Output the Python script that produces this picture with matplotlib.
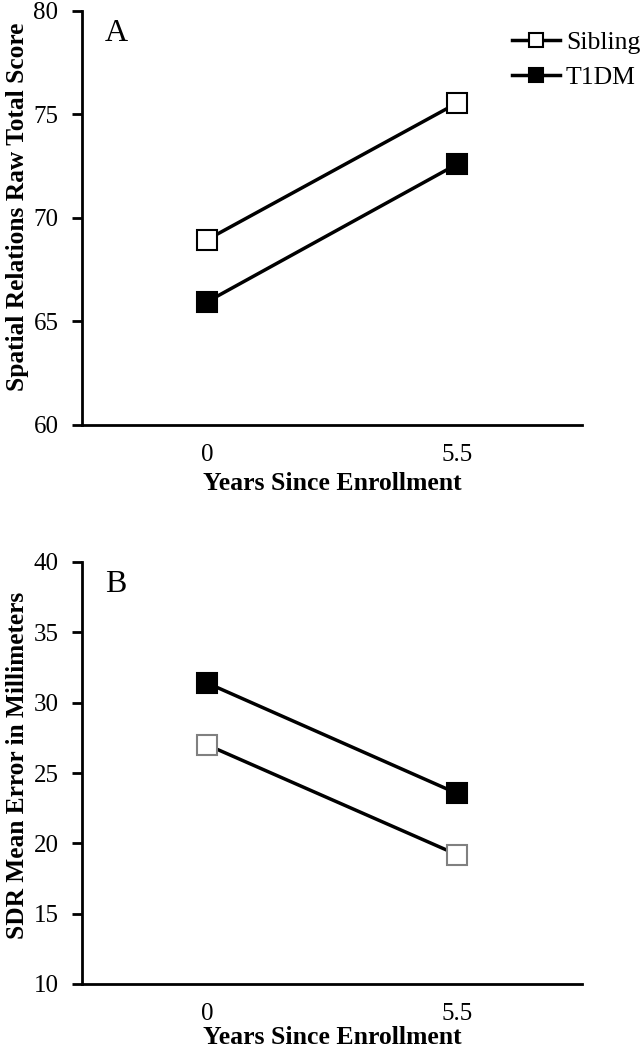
import matplotlib
matplotlib.use("Agg")
import matplotlib.pyplot as plt

plt.rcParams['font.family'] = ['Liberation Serif', 'DejaVu Serif']

years = ["0", "5.5"]
xpos = [1, 2]

sibling_a = [68.95, 75.55]
t1dm_a = [65.95, 72.6]
sibling_b = [27.0, 19.2]
t1dm_b = [31.4, 23.55]

yticks_a = [60, 65, 70, 75, 80]
yticks_b = [10, 15, 20, 25, 30, 35, 40]

W, H = 644, 1050
fig = plt.figure(figsize=(W / 100, H / 100), dpi=100)
axA = fig.add_axes([82 / W, 1 - 425 / H, 500 / W, 414 / H])
axB = fig.add_axes([82 / W, 1 - 984 / H, 500 / W, 422 / H])


def style(ax, ylim, yticks, ylabel, ly, lpad):
    ax.set_xlim(0.5, 2.5)
    ax.set_ylim(*ylim)
    ax.set_yticks(yticks)
    ax.set_xticks(xpos)
    ax.set_xticklabels(years)
    for s in ['top', 'right']:
        ax.spines[s].set_visible(False)
    for s in ['left', 'bottom']:
        ax.spines[s].set_linewidth(2)
    ax.tick_params(axis='y', direction='out', length=7, width=2, pad=10, labelsize=18)
    ax.tick_params(axis='x', length=0, pad=14, labelsize=18)
    ax.set_xlabel("Years Since Enrollment", fontsize=18.5, fontweight='bold', labelpad=lpad)
    ax.set_ylabel(ylabel, fontsize=18.3, fontweight='bold')
    ax.yaxis.set_label_coords(-0.106, ly)


lA1, = axA.plot(xpos, sibling_a, color='black', lw=2.5, marker='s', ms=14,
                mfc='white', mec='black', mew=1.5, label='Sibling', clip_on=False)
lA2, = axA.plot(xpos, t1dm_a, color='black', lw=2.5, marker='s', ms=14,
                mfc='black', mec='black', mew=1.5, label='T1DM', clip_on=False)
style(axA, (60, 80), yticks_a, "Spatial Relations Raw Total Score", 0.527, 4)
axA.text(105 / W, 1 - 41 / H, "A", transform=fig.transFigure, fontsize=23,
         va='baseline', ha='left')
fig.legend(handles=[lA1, lA2], loc='upper left', bbox_to_anchor=(512 / W, 1 - 31 / H),
           bbox_transform=fig.transFigure, frameon=False, fontsize=18.5,
           handlelength=1.85, markerscale=0.75, handletextpad=0.25,
           labelspacing=0.45, borderpad=0, borderaxespad=0)

axB.plot(xpos, t1dm_b, color='black', lw=2.5, marker='s', ms=14,
         mfc='black', mec='black', mew=1.5, clip_on=False)
axB.plot(xpos, sibling_b, color='black', lw=2.5, marker='s', ms=14,
         mfc='white', mec='#808080', mew=1.5, clip_on=False)
style(axB, (10, 40), yticks_b, "SDR Mean Error in Millimeters", 0.519, 0.5)
axB.text(105 / W, 1 - 592 / H, "B", transform=fig.transFigure, fontsize=23,
         va='baseline', ha='left')

fig.savefig("out.png", dpi=100)
